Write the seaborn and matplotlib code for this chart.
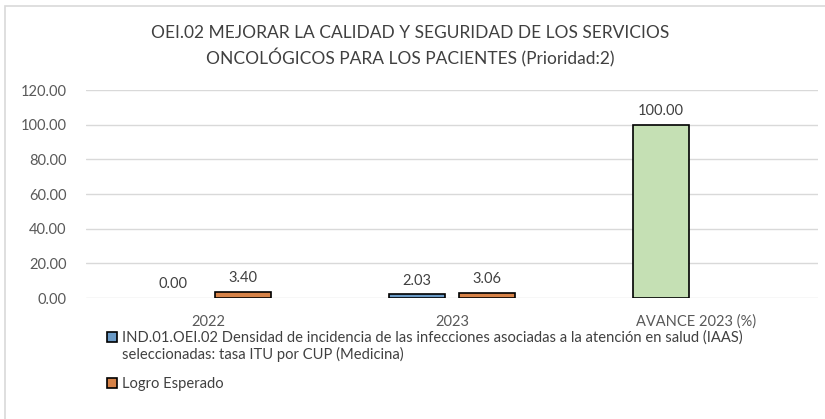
import matplotlib
matplotlib.use('Agg')
import matplotlib.pyplot as plt
import matplotlib.patches as mpatches
import seaborn as sns
import pandas as pd
import numpy as np

categories = ['2022', '2023', 'AVANCE 2023 (%)']
indicador = [0.00, 2.03, 100.00]
logro = [3.40, 3.06]
serie_ind = 'IND.01.OEI.02 Densidad de incidencia de las infecciones asociadas a la atención en salud (IAAS)\nseleccionadas: tasa ITU por CUP (Medicina)'
serie_logro = 'Logro Esperado'
title = 'OEI.02 MEJORAR LA CALIDAD Y SEGURIDAD DE LOS SERVICIOS\nONCOLÓGICOS PARA LOS PACIENTES (Prioridad:2)'

rows = []
for c, v in zip(categories, indicador):
    rows.append({'cat': c, 'val': v, 'serie': serie_ind})
for c, v in zip(categories[:2], logro):
    rows.append({'cat': c, 'val': v, 'serie': serie_logro})
df = pd.DataFrame(rows)

sns.set_style('white')
plt.rcParams['font.family'] = ['Lato', 'DejaVu Sans']

fig = plt.figure(figsize=(8.25, 4.19), dpi=100)
ax = fig.add_axes([86 / 825, 1 - 298 / 419, (818 - 86) / 825, (298 - 90) / 419])

sns.barplot(data=df, x='cat', y='val', hue='serie', order=categories,
            hue_order=[serie_ind, serie_logro],
            palette=['#5B9BD5', '#ED7D31'], width=0.57, gap=0.2,
            edgecolor='black', linewidth=1.2, ax=ax)

# avance bar is green, zero bar shows nothing
bars_ind = ax.containers[0]
bars_ind[2].set_facecolor('#C5E0B4')
bars_ind[0].set_edgecolor('none')

for cont in ax.containers:
    ax.bar_label(cont, fmt='%.2f', padding=5, fontsize=10.5, color='#404040')

ax.set_ylim(0, 120)
ax.set_yticks(np.arange(0, 121, 20))
ax.set_yticklabels(['%.2f' % t for t in np.arange(0, 121, 20)])
ax.set_xlim(-0.5, 2.5)
ax.yaxis.grid(True, color='#D9D9D9', linewidth=1)
ax.set_axisbelow(True)
for s in ax.spines.values():
    s.set_visible(False)
ax.tick_params(axis='y', length=0, pad=14, labelsize=10.5, labelcolor='#595959')
ax.tick_params(axis='x', length=0, pad=12, labelsize=10.5, labelcolor='#595959')
ax.set_xlabel('')
ax.set_ylabel('')

fig.text(0.497, 1 - 46 / 419, title, ha='center', va='center', fontsize=12.5,
         color='#404040', linespacing=1.45)

sns.move_legend(ax, loc='upper left', bbox_to_anchor=(100 / 825, 1 - 323 / 419),
                bbox_transform=fig.transFigure, frameon=False, title=None,
                fontsize=10.6, handlelength=0.65, handleheight=0.65,
                handletextpad=0.35, labelspacing=1.07, borderpad=0,
                labelcolor='#404040')
leg = ax.get_legend()
for t in leg.get_texts():
    t.set_linespacing(1.15)
for h in leg.legend_handles:
    h.set_edgecolor('black')
    h.set_linewidth(1.2)
# put the first marker next to the first line of its label
leg.legend_handles[0].set_y(leg.legend_handles[0].get_y() + 6.5)

border = mpatches.Rectangle((5 / 825, -0.05), 1.2, 1 - 6 / 419 + 0.05,
                            transform=fig.transFigure, fill=False,
                            edgecolor='#D9D9D9', linewidth=1.2)
fig.patches.append(border)

fig.savefig('out.png', dpi=100)
